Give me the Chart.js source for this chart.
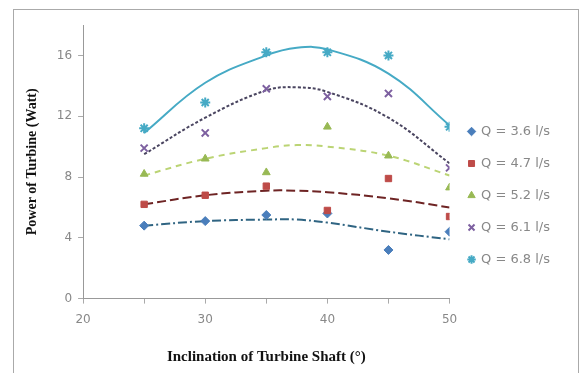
<!DOCTYPE html>
<html>
<head>
<meta charset="utf-8">
<script src="https://cdn.jsdelivr.net/npm/chart.js@4"></script>
<style>
    body { margin: 0; background: #fff; }
    #frame { position: absolute; left: 13px; top: 9px; width: 564px; height: 380px; border: 1px solid #aaa; }
    #wrap { position: absolute; left: 0; top: 0; width: 581px; height: 373px; }
</style>
</head>
<body>
<div id="frame"></div>
<div id="wrap"><canvas id="turbineChart"></canvas></div>
<script>
const angles = [25, 30, 35, 40, 45, 50];
const flowLabels = ["Q = 3.6 l/s", "Q = 4.7 l/s", "Q = 5.2 l/s", "Q = 6.1 l/s", "Q = 6.8 l/s"];

// measured power (Watt)
const power36 = [4.8, 5.1, 5.5, 5.6, 3.2, 4.4];
const power47 = [6.2, 6.8, 7.4, 5.8, 7.9, 5.4];
const power52 = [8.2, 9.2, 8.3, 11.3, 9.4, 7.3];
const power61 = [9.9, 10.9, 13.8, 13.3, 13.5, 8.6];
const power68 = [11.2, 12.9, 16.2, 16.2, 16.0, 11.3];

// trendlines
const trendAngles = [25, 30, 35, 37.5, 40, 45, 50];
const trend36 = [4.8, 5.1, 5.2, 5.2, 5.0, 4.4, 3.9];
const trend47 = [6.2, 6.8, 7.1, 7.1, 7.0, 6.6, 6.0];
const trend52 = [8.1, 9.2, 9.9, 10.1, 10.0, 9.4, 8.1];
const trend61 = [9.5, 11.9, 13.7, 13.9, 13.6, 11.9, 8.9];
const trend68 = [10.9, 14.2, 16.0, 16.5, 16.4, 14.8, 11.4];

const yTicks = [0, 4, 8, 12, 16];
const xLabelTicks = [20, 30, 40, 50];

const markerColors = ["#4A7EBB", "#BE4B48", "#98B954", "#7D60A0", "#46AAC5"];
const markerStyles = ["rectRot", "rect", "triangle", "crossRot", "star"];
const trendColors = ["#2F6482", "#6E2424", "#BBD474", "#4A4560", "#46AAC5"];
const trendDashes = [[9, 3, 2, 3], [9, 4], [6, 5], [3, 2], []];

const powerSets = [power36, power47, power52, power61, power68];
const trendSets = [trend36, trend47, trend52, trend61, trend68];

function toPoints(xs, ys) {
    return xs.map((x, i) => ({ x: x, y: ys[i] }));
}

let datasets = [];
for (let i = 0; i < powerSets.length; i++) {
    const cross = markerStyles[i] === "crossRot" || markerStyles[i] === "star";
    datasets.push({
        label: flowLabels[i],
        data: toPoints(angles, powerSets[i]),
        showLine: false,
        pointStyle: markerStyles[i],
        pointRadius: cross ? 5 : 4.5,
        pointBackgroundColor: markerColors[i],
        pointBorderColor: markerColors[i],
        pointBorderWidth: cross ? 2 : 1,
        backgroundColor: markerColors[i],
        borderColor: markerColors[i],
        order: 5 - i,
    });
}
for (let i = 0; i < trendSets.length; i++) {
    datasets.push({
        label: "trend " + flowLabels[i],
        data: toPoints(trendAngles, trendSets[i]),
        showLine: true,
        tension: 0.4,
        pointRadius: 0,
        borderColor: trendColors[i],
        borderWidth: 2,
        borderDash: trendDashes[i],
        order: 10,
    });
}

const tickFont = { family: "DejaVu Sans", size: 12 };

new Chart(document.getElementById("turbineChart"), {
    type: "scatter",
    data: { datasets: datasets },
    options: {
        responsive: true,
        maintainAspectRatio: false,
        animation: false,
        layout: { padding: { left: 24, right: 21, top: 25, bottom: 7 } },
        plugins: {
            tooltip: { enabled: false },
            legend: {
                position: "right",
                labels: {
                    usePointStyle: true,
                    boxWidth: 6,
                    boxHeight: 6,
                    padding: 19,
                    color: "#888",
                    font: { family: "DejaVu Sans", size: 13 },
                    filter: (item) => item.datasetIndex < 5,
                    sort: (a, b) => a.datasetIndex - b.datasetIndex,
                },
            },
        },
        scales: {
            x: {
                type: "linear",
                min: 20,
                max: 50,
                afterBuildTicks: (axis) => {
                    axis.ticks = [20, 25, 30, 35, 40, 45, 50].map((v) => ({ value: v }));
                },
                ticks: {
                    color: "#888",
                    font: tickFont,
                    padding: 9,
                    autoSkip: false,
                    maxRotation: 0,
                    callback: (v) => (xLabelTicks.includes(v) ? v : ""),
                },
                grid: { drawOnChartArea: false, tickLength: 5, color: "#aaa" },
                border: { color: "#999" },
                title: {
                    display: true,
                    text: "Inclination of Turbine Shaft (°)",
                    color: "#111",
                    font: { family: "Liberation Serif", size: 15, weight: "bold" },
                    padding: { top: 12, bottom: 0 },
                },
            },
            y: {
                min: 0,
                max: 18,
                afterBuildTicks: (axis) => {
                    axis.ticks = yTicks.map((v) => ({ value: v }));
                },
                ticks: { color: "#888", font: tickFont, padding: 6 },
                grid: { drawOnChartArea: false, tickLength: 5, color: "#aaa" },
                border: { color: "#999" },
                title: {
                    display: true,
                    text: "Power of Turbine (Watt)",
                    color: "#111",
                    font: { family: "Liberation Serif", size: 14, weight: "bold" },
                    padding: { top: 0, bottom: 10 },
                },
            },
        },
    },
});
</script>
</body>
</html>
